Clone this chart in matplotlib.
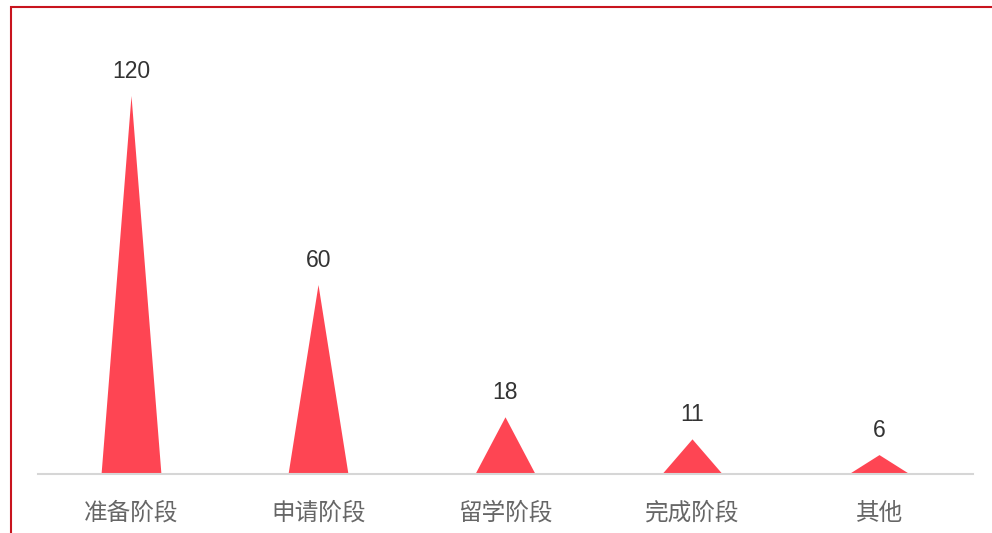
import matplotlib
matplotlib.use("Agg")
import matplotlib.pyplot as plt
from matplotlib.patches import Rectangle, Polygon

# data
stages = ["准备阶段", "申请阶段", "留学阶段", "完成阶段", "其他"]
counts = [120, 60, 18, 11, 6]

bar_color = "#fe4553"
half_w = 0.16  # half base width of each triangle, in category units

fig = plt.figure(figsize=(9.92, 5.33), dpi=100)
ax = fig.add_axes([38 / 992, 59 / 533, 935 / 992, 378 / 533])

for i, v in enumerate(counts):
    tri = Polygon([(i - half_w, 0), (i, v), (i + half_w, 0)], closed=True,
                  facecolor=bar_color, edgecolor="none")
    ax.add_patch(tri)
    ax.annotate(str(v), xy=(i, v), xytext=(0, 13), textcoords="offset points",
                ha="center", va="baseline", fontsize=16.5, color="#333333",
                family=["Liberation Sans", "DejaVu Sans"])

ax.set_xlim(-0.5, len(stages) - 0.5)
ax.set_ylim(0, max(counts))
ax.set_xticks(range(len(stages)))
ax.set_xticklabels(stages, fontsize=17, color="#666666",
                   family=["Noto Sans CJK SC", "DejaVu Sans"])
ax.tick_params(axis="x", length=0, pad=20)
ax.set_yticks([])
for s in ["top", "right", "left"]:
    ax.spines[s].set_visible(False)
ax.spines["bottom"].set_color("#d6d6d6")
ax.spines["bottom"].set_linewidth(1.5)

# red frame around the chart (cropped on the right and bottom)
frame = Rectangle((10.5 / 992, -0.1), 1.2, 1 - 7.5 / 533 + 0.1,
                  transform=fig.transFigure, fill=False,
                  edgecolor="#c8141e", linewidth=1.5, clip_on=False)
fig.patches.append(frame)

fig.savefig("out.png", dpi=100)
